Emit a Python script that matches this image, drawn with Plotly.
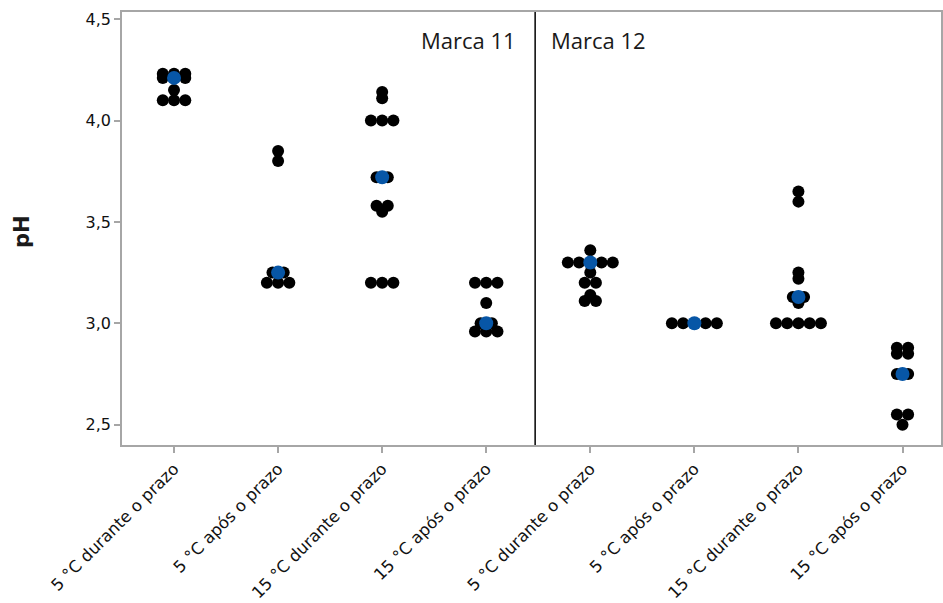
import numpy as np
import plotly.graph_objects as go

categories = [
    "5 °C durante o prazo", "5 °C após o prazo",
    "15 °C durante o prazo", "15 °C após o prazo",
    "5 °C durante o prazo", "5 °C após o prazo",
    "15 °C durante o prazo", "15 °C após o prazo",
]

# pH readings per storage condition (Marca 11: groups 0-3, Marca 12: groups 4-7)
g0 = [4.23, 4.23, 4.23, 4.21, 4.21, 4.21, 4.15, 4.10, 4.10, 4.10]
g1 = [3.85, 3.80, 3.25, 3.25, 3.20, 3.20, 3.20]
g2 = [4.14, 4.11, 4.00, 4.00, 4.00, 3.72, 3.72, 3.58, 3.58, 3.55, 3.20, 3.20, 3.20]
g3 = [3.20, 3.20, 3.20, 3.10, 3.00, 3.00, 2.96, 2.96, 2.96]
g4 = [3.36, 3.30, 3.30, 3.30, 3.30, 3.30, 3.25, 3.20, 3.20, 3.14, 3.11, 3.11]
g5 = [3.00, 3.00, 3.00, 3.00, 3.00]
g6 = [3.65, 3.60, 3.25, 3.22, 3.13, 3.13, 3.10, 3.00, 3.00, 3.00, 3.00, 3.00]
g7 = [2.88, 2.88, 2.85, 2.85, 2.75, 2.75, 2.55, 2.55, 2.50]
groups = [g0, g1, g2, g3, g4, g5, g6, g7]

# median of each group (blue symbol)
medians = [4.21, 3.25, 3.72, 3.00, 3.30, 3.00, 3.13, 2.75]

STEP = 0.108  # horizontal spacing of tied values, in category units

xs, ys = [], []
for i, vals in enumerate(groups):
    uniq = sorted(set(vals))
    for v in uniq:
        n = vals.count(v)
        for k in range(n):
            xs.append(i + (k - (n - 1) / 2) * STEP)
            ys.append(v)

fig = go.Figure()
fig.add_trace(go.Scatter(
    x=xs, y=ys, mode="markers",
    marker=dict(size=12, color="black", line=dict(width=0)),
    showlegend=False, hoverinfo="y",
))
fig.add_trace(go.Scatter(
    x=list(range(len(medians))), y=medians, mode="markers",
    marker=dict(size=14, color="#0756a6", line=dict(width=0)),
    showlegend=False, hoverinfo="y",
))

divider = 3.47
fig.add_shape(type="line", xref="x", yref="paper", x0=divider, x1=divider,
              y0=0, y1=1, line=dict(color="black", width=1.5))

fig.add_annotation(x=divider, y=0.935, xref="x", yref="paper", text="Marca 11",
                   xanchor="right", yanchor="middle", xshift=-17, showarrow=False,
                   font=dict(family="Open Sans", size=22, color="#1a1a1a"))
fig.add_annotation(x=divider, y=0.935, xref="x", yref="paper", text="Marca 12",
                   xanchor="left", yanchor="middle", xshift=14, showarrow=False,
                   font=dict(family="Open Sans", size=22, color="#1a1a1a"))

fig.add_annotation(x=-0.122, y=0.492, xref="paper", yref="paper", text="<b>pH</b>",
                   textangle=-90, xanchor="center", yanchor="middle", showarrow=False,
                   font=dict(family="DejaVu Sans", size=21, color="#1a1a1a"))

axis_common = dict(showline=True, linecolor="#a6a6a6", linewidth=1.5, mirror=True,
                   ticks="outside", tickcolor="#a6a6a6", ticklen=6, tickwidth=1.5,
                   showgrid=False, zeroline=False)

fig.update_layout(
    width=943, height=603,
    margin=dict(l=122, r=2, t=12, b=158),
    paper_bgcolor="white", plot_bgcolor="white",
    separators=",.",
    font=dict(family="DejaVu Sans", color="#111111"),
    xaxis=dict(range=[-0.5, 7.37], tickmode="array",
               tickvals=list(range(len(categories))), ticktext=categories,
               tickangle=-45, tickfont=dict(size=16.5), automargin=False,
               **axis_common),
    yaxis=dict(range=[2.40, 4.535], tickmode="array",
               tickvals=[2.5, 3.0, 3.5, 4.0, 4.5], tickformat=".1f",
               tickfont=dict(size=16), automargin=False, **axis_common),
)

fig.write_html("out.html")
